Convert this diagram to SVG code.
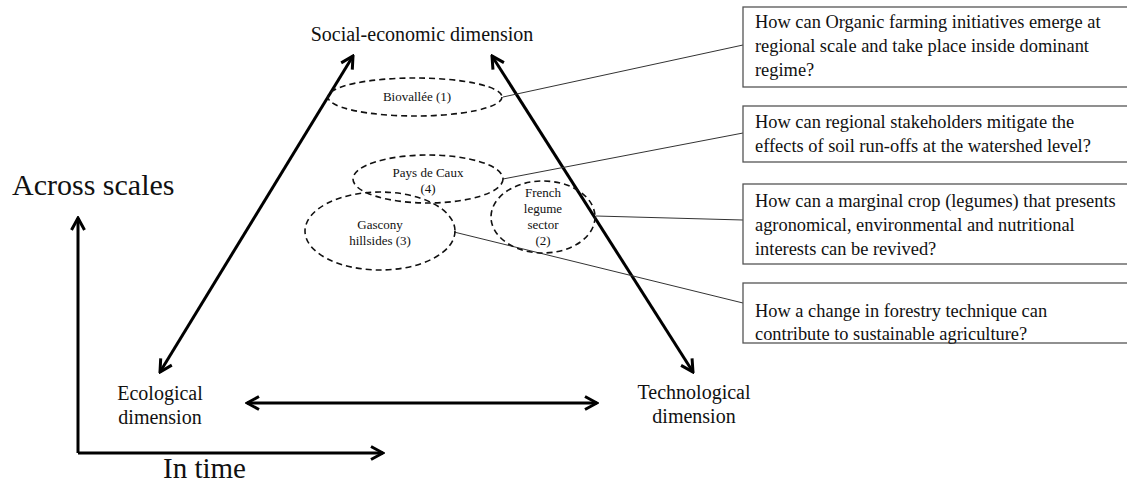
<svg xmlns="http://www.w3.org/2000/svg" width="1127" height="482" viewBox="0 0 1127 482">
<style>
text{font-family:"Liberation Serif","Times New Roman",serif;fill:#111}
.dim{font-size:20px;text-anchor:middle}
.el{font-size:13px;text-anchor:middle}
.q{font-size:18.4px}
.oval{fill:none;stroke:#111;stroke-width:1.6;stroke-dasharray:6 4}
.box{fill:#fff;stroke:#555;stroke-width:1.3}
.link{stroke:#333;stroke-width:1;fill:none}
.big{stroke:#000;stroke-width:3;fill:none;marker-end:url(#ah);marker-start:url(#ah)}
.axis{stroke:#000;stroke-width:3;fill:none;marker-end:url(#ah)}
</style>
<defs>
<marker id="ah" viewBox="0 0 16 16" refX="14" refY="8" markerWidth="16" markerHeight="16" markerUnits="userSpaceOnUse" orient="auto-start-reverse">
<path d="M2,1.5 L14,8 L2,14.5" fill="none" stroke="#000" stroke-width="3" stroke-linejoin="miter"/>
</marker>
</defs>
<g id="connectors">
<line class="big" x1="160" y1="372" x2="353" y2="56"/>
<line class="big" x1="693" y1="372" x2="492" y2="56"/>
<line class="big" x1="247" y1="403" x2="597" y2="403"/>
<path class="axis" d="M78,453 L78,218"/>
<path class="axis" d="M78,453 L383,453"/>
<line class="link" x1="503" y1="97" x2="743" y2="45"/>
<line class="link" x1="503" y1="179" x2="743" y2="133"/>
<line class="link" x1="596" y1="216" x2="743" y2="220"/>
<line class="link" x1="454" y1="232" x2="743" y2="303"/>
</g>
<g id="axis-labels">
<text x="12" y="195" style="font-size:30px">Across scales</text>
<text x="163" y="478" style="font-size:29px">In time</text>
</g>
<g id="social-economic">
<text class="dim" x="422" y="41">Social-economic dimension</text>
</g>
<g id="ecological">
<text class="dim" x="160" y="400">Ecological</text>
<text class="dim" x="160" y="424">dimension</text>
</g>
<g id="technological">
<text class="dim" x="694" y="399">Technological</text>
<text class="dim" x="694" y="423">dimension</text>
</g>
<g id="biovallee">
<ellipse class="oval" cx="415" cy="97" rx="87" ry="19"/>
<text class="el" x="417" y="101">Biovallée (1)</text>
</g>
<g id="pays-de-caux">
<ellipse class="oval" cx="428" cy="179" rx="75" ry="24"/>
<text class="el" x="428" y="177">Pays de Caux</text>
<text class="el" x="428" y="193">(4)</text>
</g>
<g id="gascony">
<ellipse class="oval" cx="380" cy="231" rx="75" ry="39"/>
<text class="el" x="380" y="229">Gascony</text>
<text class="el" x="380" y="245">hillsides (3)</text>
</g>
<g id="french-legume">
<ellipse class="oval" cx="543" cy="217" rx="52" ry="36"/>
<text class="el" x="543" y="197">French</text>
<text class="el" x="543" y="213">legume</text>
<text class="el" x="543" y="229">sector</text>
<text class="el" x="543" y="245">(2)</text>
</g>
<g id="q1">
<rect class="box" x="743" y="7" width="390" height="80"/>
<text class="q" x="755" y="28">How can Organic farming initiatives emerge at</text>
<text class="q" x="755" y="52">regional scale and take place inside dominant</text>
<text class="q" x="755" y="76">regime?</text>
</g>
<g id="q2">
<rect class="box" x="743" y="106" width="390" height="56"/>
<text class="q" x="755" y="128">How can regional stakeholders mitigate the</text>
<text class="q" x="755" y="152">effects of soil run-offs at the watershed level?</text>
</g>
<g id="q3">
<rect class="box" x="743" y="184" width="390" height="80"/>
<text class="q" x="755" y="207">How can a marginal crop (legumes) that presents</text>
<text class="q" x="755" y="231">agronomical, environmental and nutritional</text>
<text class="q" x="755" y="255">interests can be revived?</text>
</g>
<g id="q4">
<rect class="box" x="743" y="283" width="390" height="60"/>
<text class="q" x="755" y="317">How a change in forestry technique can</text>
<text class="q" x="755" y="340">contribute to sustainable agriculture?</text>
</g>
</svg>
